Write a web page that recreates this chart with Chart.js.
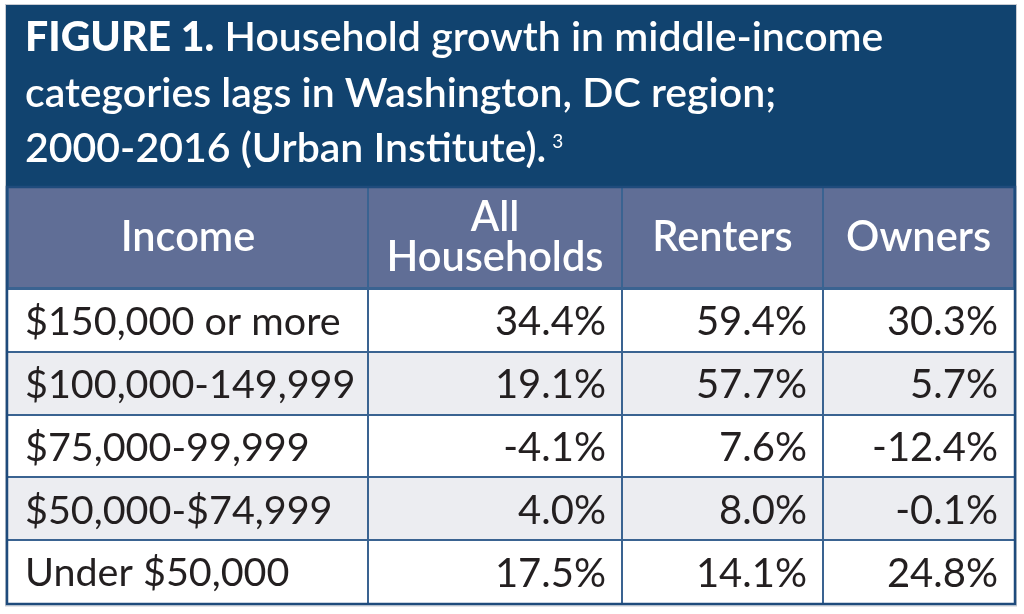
<!DOCTYPE html>
<html><head><meta charset="utf-8">
<script src="https://cdn.jsdelivr.net/npm/chart.js@4.4.1/dist/chart.umd.min.js"></script>
<style>html,body{margin:0;padding:0;background:#fff;}canvas{display:block}</style>
</head><body>
<canvas id="c" width="1024" height="614"></canvas>
<script>
// ---- data ----
const titleBold = 'FIGURE 1.';
const titleLines = [' Household growth in middle-income', 'categories lags in Washington, DC region;', '2000-2016 (Urban Institute).'];
const titleNote = '3';
const columnHeaders = [['Income'], ['All', 'Households'], ['Renters'], ['Owners']];
const categories = ['$150,000 or more', '$100,000-149,999', '$75,000-99,999', '$50,000-$74,999', 'Under $50,000'];
const allHouseholds = [34.4, 19.1, -4.1, 4.0, 17.5];
const renters = [59.4, 57.7, 7.6, 8.0, 14.1];
const owners = [30.3, 5.7, -12.4, -0.1, 24.8];

// ---- layout ----
const columnWeights = [360, 254, 201, 191];
const edges = columnWeights.reduce((a, w) => (a.push(a[a.length - 1] + w), a), [0]);
const headerHeight = 102;
const titleTop = 5;
const DARK = '#11436f', HEAD = '#606e96', LINE = '#3a6391', FRAME = '#1f4b7c', ALT = '#ecedf1', TEXT = '#231f20';

const valueCols = [null, allHouseholds, renters, owners];
const datasets = columnWeights.map((w, c) => ({
  label: 'col' + c,
  data: categories.map(() => [edges[c], edges[c + 1]]),
  backgroundColor: categories.map((_, i) => i % 2 ? ALT : '#ffffff'),
  borderWidth: 0,
  inflateAmount: 0,
  barPercentage: 1,
  categoryPercentage: 1,
  grouped: false
}));

const tablePlugin = {
  id: 'tablePlugin',
  beforeDatasetsDraw(chart) {
    const ctx = chart.ctx, xs = chart.scales.x, a = chart.chartArea;
    const L = xs.getPixelForValue(edges[0]), R = xs.getPixelForValue(edges[edges.length - 1]);
    const hTop = a.top - headerHeight;
    ctx.save();
    // outer light outline
    ctx.strokeStyle = '#c9ccd3'; ctx.lineWidth = 1;
    ctx.strokeRect(L - 2.5, titleTop - 0.5, R - L + 5, a.bottom - titleTop + 3.5);
    // title box
    ctx.fillStyle = DARK;
    ctx.fillRect(L - 2, titleTop, R - L + 4, hTop - titleTop + 1);
    // title text
    ctx.fillStyle = '#ffffff'; ctx.textBaseline = 'alphabetic'; ctx.textAlign = 'left';
    const tx = L + 17;
    const base = [titleTop + 46, titleTop + 102, titleTop + 157];
    ctx.font = '900 41px Lato';
    ctx.fillText(titleBold, tx, base[0]);
    let w = ctx.measureText(titleBold).width;
    ctx.font = '600 41px Lato';
    ctx.fillText(titleLines[0], tx + w, base[0]);
    ctx.fillText(titleLines[1], tx, base[1]);
    ctx.fillText(titleLines[2], tx, base[2]);
    w = ctx.measureText(titleLines[2]).width;
    ctx.font = '400 19px Lato';
    ctx.fillText(titleNote, tx + w + 6, base[2] - 14);
    // header
    ctx.fillStyle = LINE;
    ctx.fillRect(L - 2, hTop, R - L + 4, headerHeight);
    for (let c = 0; c < columnWeights.length; c++) {
      const x0 = xs.getPixelForValue(edges[c]), x1 = xs.getPixelForValue(edges[c + 1]);
      ctx.fillStyle = HEAD;
      ctx.fillRect(x0 + 1, hTop + 1, x1 - x0 - 2, headerHeight - 3);
      ctx.fillStyle = '#ffffff'; ctx.textAlign = 'center'; ctx.textBaseline = 'middle';
      ctx.font = '600 41.5px Lato';
      const lines = columnHeaders[c], lh = 40;
      const cy = hTop + headerHeight / 2;
      lines.forEach((t, k) => ctx.fillText(t, (x0 + x1) / 2, cy + (k - (lines.length - 1) / 2) * lh));
    }
    ctx.restore();
  },
  afterDatasetsDraw(chart) {
    const ctx = chart.ctx, a = chart.chartArea, xs = chart.scales.x, ys = chart.scales.y;
    const L = xs.getPixelForValue(edges[0]), R = xs.getPixelForValue(edges[edges.length - 1]);
    ctx.save();
    // grid lines
    ctx.strokeStyle = LINE; ctx.lineWidth = 2;
    ctx.beginPath();
    for (let c = 1; c < edges.length - 1; c++) {
      const x = Math.round(xs.getPixelForValue(edges[c]));
      ctx.moveTo(x, a.top); ctx.lineTo(x, a.bottom);
    }
    for (let i = 1; i < categories.length; i++) {
      const y = Math.round((ys.getPixelForValue(i - 1) + ys.getPixelForValue(i)) / 2);
      ctx.moveTo(L, y); ctx.lineTo(R, y);
    }
    ctx.moveTo(L, Math.round(a.top)); ctx.lineTo(R, Math.round(a.top));
    ctx.stroke();
    // cell text
    ctx.fillStyle = TEXT; ctx.textBaseline = 'middle';
    for (let c = 0; c < columnWeights.length; c++) {
      const meta = chart.getDatasetMeta(c);
      meta.data.forEach((el, i) => {
        const p = el.getProps(['x', 'y', 'base'], true);
        if (c === 0) { ctx.font = '400 39.5px Lato'; ctx.textAlign = 'left'; ctx.fillText(categories[i], Math.min(p.x, p.base) + 17, p.y + 2); }
        else { ctx.font = '400 40px Lato'; ctx.textAlign = 'right'; ctx.fillText(valueCols[c][i].toFixed(1) + '%', Math.max(p.x, p.base) - 16, p.y + 2); }
      });
    }
    // outer frame
    ctx.strokeStyle = FRAME; ctx.lineWidth = 2.5;
    ctx.strokeRect(L - 1, a.top - headerHeight, R - L + 2, a.bottom - a.top + headerHeight + 1);
    ctx.restore();
  }
};

new Chart(document.getElementById('c'), {
  type: 'bar',
  data: { labels: categories, datasets },
  options: {
    indexAxis: 'y',
    responsive: false,
    animation: false,
    devicePixelRatio: 1,
    layout: { padding: { left: 8, right: 10, top: 289, bottom: 11 } },
    scales: {
      x: { type: 'linear', min: edges[0], max: edges[edges.length - 1], display: false },
      y: { type: 'category', display: false, offset: true }
    },
    plugins: { legend: { display: false }, tooltip: { enabled: false }, title: { display: false } }
  },
  plugins: [tablePlugin]
});
</script>
</body></html>
